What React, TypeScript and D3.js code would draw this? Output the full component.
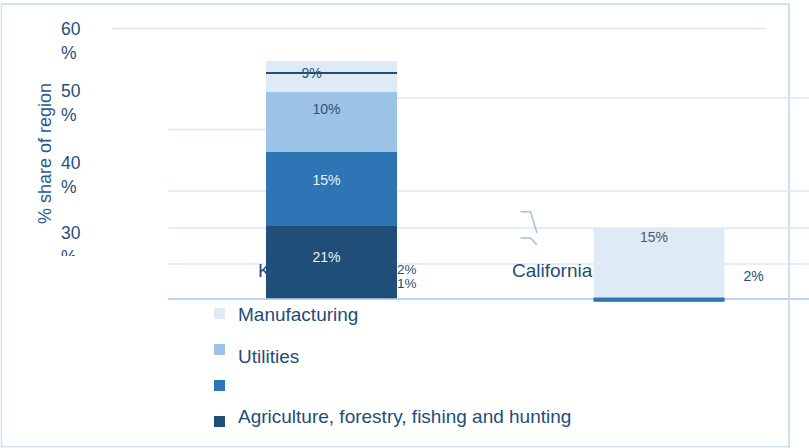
import React from "react";
import * as d3 from "d3";

// ---- data ----
const categories = ["Kentucky", "California"];
const seriesNames = ["Manufacturing", "Utilities", "", "Agriculture, forestry, fishing and hunting"];
const seriesColors = ["#deebf7", "#9dc3e6", "#2e75b6", "#1f4e79"];
const kentuckyValues = [9, 10, 15, 21];
const californiaValues = [15, 0, 2, 0];
const kentuckyMarker = 51.5;
const kentuckySideLabels = ["2%", "1%"];
const californiaSideLabel = "2%";
const yTickValues = [60, 50, 40, 30];
const yTickNumbers = ["60", "50", "40", "30"];
const yTitle = "% share of region";

const W = 809;
const H = 448;
const FONT = "'Liberation Sans', Arial, sans-serif";
const TEXT = "#1f4e79";
const GRID = "#dce8f5";
const AXIS = "#bdd7ee";

export default function App() {
  const x = d3
    .scaleBand<string>()
    .domain(categories)
    .range([200.5, 790])
    .paddingInner(0.6)
    .paddingOuter(0.2);
  const bw = x.bandwidth();

  // Kentucky stack (bottom-up: series 3,2,1,0)
  const order = [3, 2, 1, 0];
  let acc = 0;
  const kStack = order.map((si) => {
    const y0 = acc;
    acc += kentuckyValues[si];
    return { si, y0, y1: acc, v: kentuckyValues[si] };
  });
  const kBounds = [0, ...kStack.map((d) => d.y1)];
  const yK = d3.scaleLinear().domain(kBounds).range([298.3, 226, 152, 92, 61]);

  // California
  const yC = d3.scaleLinear().domain([0, californiaValues[0]]).range([297.5, 228]);
  const strip = d3.scaleLinear().domain([0, 2]).range([0, 4.3]);

  // y tick labels
  const yTick = d3.scaleLinear().domain([30, 40, 50, 60]).range([232.5, 162.5, 91, 29]);

  // legend
  const legY = d3
    .scalePoint<number>()
    .domain(seriesNames.map((_, i) => i))
    .range([308, 416]);
  const legTextDy = [13, 19, 13, 7];

  const kx = x("Kentucky")!;
  const cx = x("California")!;
  const kc = kx + bw / 2;
  const cc = cx + bw / 2;

  const kLabelOffsets: Record<number, { dx: number; dy: number; fill: string }> = {
    0: { dx: -20, dy: 11.7, fill: "#2f4f75" },
    1: { dx: -5, dy: 17, fill: "#2f4f75" },
    2: { dx: -5, dy: 28, fill: "#e8f0f9" },
    3: { dx: -5, dy: 31, fill: "#e8f0f9" },
  };

  const gridLines = [
    { y: yTick(60) - 0.5, x1: 112, x2: 766 },
    { y: 98, x1: kx + bw, x2: W },
    { y: 129.5, x1: 168, x2: kx },
    { y: 191, x1: 168, x2: W },
    { y: 228, x1: 168, x2: W },
    { y: 264, x1: 168, x2: W },
  ];

  return (
    <svg
      width={W}
      height={H}
      style={{ position: "absolute", left: 0, top: 0, background: "#fff" }}
      fontFamily={FONT}
    >
      <defs>
        <clipPath id="tickclip">
          <rect x={0} y={0} width={120} height={256} />
        </clipPath>
        <clipPath id="kclip">
          <rect x={0} y={0} width={kx} height={H} />
        </clipPath>
      </defs>
      {/* outer border */}
      <rect x={1.5} y={4.2} width={787.5} height={442.5} fill="none" stroke="#d3e3f3" strokeWidth={1.5} />
      <line x1={1.5} x2={789} y1={4.2} y2={4.2} stroke="#c9dcf0" strokeWidth={1.6} />
      <line x1={789} x2={789} y1={4} y2={H} stroke="#c9dcf0" strokeWidth={1.6} />

      {/* gridlines */}
      {gridLines.map((g, i) => (
        <line key={i} x1={g.x1} x2={g.x2} y1={g.y} y2={g.y} stroke={GRID} strokeWidth={1.6} />
      ))}
      <line x1={168} x2={W} y1={299} y2={299} stroke={AXIS} strokeWidth={2} />

      {/* y tick labels */}
      <g clipPath="url(#tickclip)" fill={TEXT} fontSize={17.5}>
        {yTickValues.map((v, i) => (
          <g key={v}>
            <text x={61} y={yTick(v)} dominantBaseline="central">
              {yTickNumbers[i]}
            </text>
            <text x={61} y={yTick(v) + 24} dominantBaseline="central">
              %
            </text>
          </g>
        ))}
      </g>

      {/* y title */}
      <text
        transform={`translate(44.5,153.5) rotate(-90)`}
        textAnchor="middle"
        dominantBaseline="central"
        fontSize={18}
        fill="#2a5a8c"
      >
        {yTitle}
      </text>

      {/* category labels (drawn under bars) */}
      <g clipPath="url(#kclip)">
        <text x={kx - 8} y={277} fontSize={19} fill={TEXT}>
          {categories[0]}
        </text>
      </g>
      <text x={cx - 81.5} y={277} fontSize={19} fill={TEXT}>
        {categories[1]}
      </text>

      {/* California break marks */}
      <path
        d={`M${cx - 73},${211.7}H${cx - 63}L${cx - 56.5},${233}M${cx - 73},${238}H${cx - 63}L${cx - 56.5},${245}`}
        fill="none"
        stroke="#9dc3e6"
        strokeWidth={1.5}
      />

      {/* Kentucky bar */}
      {kStack.map((d) => (
        <rect
          key={d.si}
          x={kx}
          width={bw}
          y={yK(d.y1)}
          height={yK(d.y0) - yK(d.y1)}
          fill={seriesColors[d.si]}
        />
      ))}
      <line
        x1={kx}
        x2={kx + bw}
        y1={yK(kentuckyMarker)}
        y2={yK(kentuckyMarker)}
        stroke="#1f4e79"
        strokeWidth={2}
      />
      {kStack.map((d) => (
        <text
          key={"l" + d.si}
          x={kc + kLabelOffsets[d.si].dx}
          y={yK(d.y1) + kLabelOffsets[d.si].dy}
          textAnchor="middle"
          dominantBaseline="central"
          fontSize={14}
          fill={kLabelOffsets[d.si].fill}
        >
          {d.v}%
        </text>
      ))}
      {kentuckySideLabels.map((t, i) => (
        <text
          key={t}
          x={kx + bw}
          y={yK(0) - 28.5 + i * 14}
          dominantBaseline="central"
          fontSize={13.5}
          fill={TEXT}
        >
          {t}
        </text>
      ))}

      {/* California bar */}
      <rect x={cx} width={bw} y={yC(californiaValues[0])} height={yC(0) - yC(californiaValues[0])} fill={seriesColors[0]} />
      <rect x={cx} width={bw} y={yC(0)} height={strip(californiaValues[2])} fill={seriesColors[2]} />
      <text
        x={cc - 5}
        y={yC(californiaValues[0]) + 9}
        textAnchor="middle"
        dominantBaseline="central"
        fontSize={14}
        fill="#4e5866"
      >
        {californiaValues[0]}%
      </text>
      <text
        x={cx + bw + 29}
        y={yC(0) - 21.5}
        textAnchor="middle"
        dominantBaseline="central"
        fontSize={14}
        fill={TEXT}
      >
        {californiaSideLabel}
      </text>

      {/* legend */}
      {seriesNames.map((name, i) => (
        <g key={i}>
          <rect x={214} y={legY(i)!} width={11} height={11} fill={seriesColors[i]} />
          {name && (
            <text x={238} y={legY(i)! + legTextDy[i]} fontSize={19} fill={TEXT}>
              {name}
            </text>
          )}
        </g>
      ))}
    </svg>
  );
}
